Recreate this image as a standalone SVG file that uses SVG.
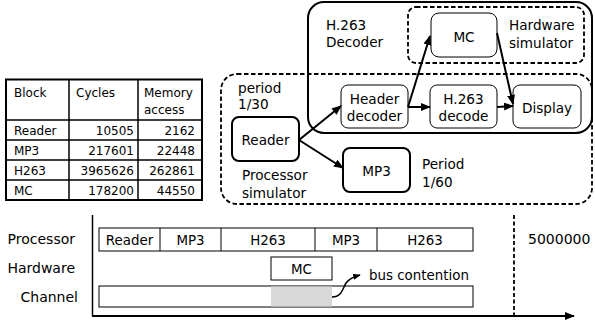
<svg xmlns="http://www.w3.org/2000/svg" width="595" height="324" viewBox="0 0 595 324">
<style>
text{font-family:"DejaVu Sans",Verdana,sans-serif;fill:#000}
.t{font-size:12px}
.d{font-size:13.6px}
.l{font-size:14px}
.b{font-size:13.4px}
.thin{fill:#fff;stroke:#000;stroke-width:1}
.thick{fill:#fff;stroke:#000;stroke-width:2}
.dash{fill:none;stroke:#000;stroke-width:1.8;stroke-dasharray:4.5 2.5}
.c{fill:none;stroke:#000;stroke-width:2}
.grid{stroke:#000;stroke-width:1.5;fill:none}
.div{stroke:#000;stroke-width:1;fill:none}
</style>
<defs>
<marker id="ah" viewBox="0 0 10 10" refX="9" refY="5" markerWidth="5" markerHeight="5" orient="auto" markerUnits="strokeWidth">
<path d="M0,1 L10,5 L0,9 Z" fill="#000"/>
</marker>
</defs>

<g id="table">
<rect x="6" y="79.5" width="196" height="120.5" fill="#fff" stroke="#000" stroke-width="2"/>
<line class="grid" x1="69" y1="79.5" x2="69" y2="200"/>
<line class="grid" x1="138" y1="79.5" x2="138" y2="200"/>
<line class="grid" x1="6" y1="120" x2="202" y2="120"/>
<line class="grid" x1="6" y1="140" x2="202" y2="140"/>
<line class="grid" x1="6" y1="160" x2="202" y2="160"/>
<line class="grid" x1="6" y1="180" x2="202" y2="180"/>
<text class="t" x="14" y="97">Block</text>
<text class="t" x="76" y="97">Cycles</text>
<text class="t" x="144" y="97">Memory</text>
<text class="t" x="144" y="114">access</text>
<text class="t" x="14" y="135">Reader</text>
<text class="t" x="14" y="155">MP3</text>
<text class="t" x="14" y="175">H263</text>
<text class="t" x="14" y="195">MC</text>
<g text-anchor="end">
<text class="t" x="134" y="135">10505</text>
<text class="t" x="134" y="155">217601</text>
<text class="t" x="134" y="175">3965626</text>
<text class="t" x="134" y="195">178200</text>
<text class="t" x="195" y="135">2162</text>
<text class="t" x="195" y="155">22448</text>
<text class="t" x="195" y="175">262861</text>
<text class="t" x="195" y="195">44550</text>
</g>
</g>

<g id="decoder-group">
<rect x="308" y="2" width="284" height="131" rx="16" fill="none" stroke="#000" stroke-width="2"/>
<text class="d" x="326" y="30">H.263</text>
<text class="d" x="326" y="47">Decoder</text>
</g>

<g id="hardware-simulator">
<rect class="dash" x="408" y="7" width="176" height="56" rx="8"/>
<text class="d" x="509" y="30">Hardware</text>
<text class="d" x="509" y="48">simulator</text>
</g>

<g id="processor-simulator">
<rect class="dash" x="221" y="74" width="371" height="130" rx="16"/>
<text class="d" x="238" y="93">period</text>
<text class="d" x="238" y="109">1/30</text>
<text class="d" x="242" y="180">Processor</text>
<text class="d" x="242" y="198">simulator</text>
<text class="d" x="422" y="169">Period</text>
<text class="d" x="422" y="187">1/60</text>
</g>

<g id="mc">
<rect class="thin" x="431" y="13" width="66" height="44" rx="8"/>
<text class="d" x="464" y="41.5" text-anchor="middle">MC</text>
</g>

<g id="reader">
<rect class="thick" x="232" y="117" width="67" height="44" rx="7"/>
<text class="d" x="265.5" y="145" text-anchor="middle">Reader</text>
</g>

<g id="header-decoder">
<rect class="thin" x="341" y="85" width="67" height="43" rx="7"/>
<text class="d" x="374.5" y="104" text-anchor="middle">Header</text>
<text class="d" x="374.5" y="120.5" text-anchor="middle">decoder</text>
</g>

<g id="h263-decode">
<rect class="thin" x="430" y="85" width="67" height="43" rx="7"/>
<text class="d" x="463.5" y="104" text-anchor="middle">H.263</text>
<text class="d" x="463.5" y="120.5" text-anchor="middle">decode</text>
</g>

<g id="display">
<rect class="thin" x="513" y="85" width="68" height="43" rx="7"/>
<text class="d" x="547" y="112.5" text-anchor="middle">Display</text>
</g>

<g id="mp3">
<rect class="thick" x="343" y="148" width="67" height="44" rx="7"/>
<text class="d" x="376.5" y="176" text-anchor="middle">MP3</text>
</g>

<g id="connectors">
<line class="c" x1="299" y1="140" x2="341" y2="106" marker-end="url(#ah)"/>
<line class="c" x1="299" y1="140" x2="343" y2="168" marker-end="url(#ah)"/>
<line class="c" x1="408" y1="107" x2="430" y2="107" marker-end="url(#ah)"/>
<line class="c" x1="408" y1="107" x2="430" y2="36" marker-end="url(#ah)"/>
<line class="c" x1="497" y1="33" x2="513" y2="104" marker-end="url(#ah)"/>
<line class="c" x1="497" y1="107" x2="513" y2="106" marker-end="url(#ah)"/>
</g>

<g id="timeline">
<line x1="92.5" y1="215" x2="92.5" y2="316" stroke="#000" stroke-width="1.5"/>
<line x1="92" y1="316" x2="574" y2="316" stroke="#000" stroke-width="2" marker-end="url(#ah)"/>
<line x1="514" y1="215" x2="514" y2="316" stroke="#000" stroke-width="1.8" stroke-dasharray="4 2.5"/>
<text class="l" x="528" y="244">5000000</text>
<text class="l" x="75" y="244" text-anchor="end">Processor</text>
<text class="l" x="75" y="273" text-anchor="end">Hardware</text>
<text class="l" x="78" y="302" text-anchor="end">Channel</text>
</g>

<g id="processor-bar">
<rect class="thin" x="99" y="228" width="374" height="23"/>
<line class="div" x1="160" y1="228" x2="160" y2="251"/>
<line class="div" x1="221" y1="228" x2="221" y2="251"/>
<line class="div" x1="315" y1="228" x2="315" y2="251"/>
<line class="div" x1="377" y1="228" x2="377" y2="251"/>
<text class="b" x="129.5" y="244.5" text-anchor="middle">Reader</text>
<text class="b" x="190.5" y="244.5" text-anchor="middle">MP3</text>
<text class="b" x="268" y="244.5" text-anchor="middle">H263</text>
<text class="b" x="346" y="244.5" text-anchor="middle">MP3</text>
<text class="b" x="425" y="244.5" text-anchor="middle">H263</text>
</g>

<g id="hardware-mc">
<rect class="thin" x="271" y="257" width="61" height="23"/>
<text class="b" x="301.5" y="273.5" text-anchor="middle">MC</text>
</g>

<g id="channel-bar">
<rect class="thin" x="99" y="286" width="374" height="21"/>
<rect x="271" y="286.5" width="61" height="20" fill="#d9d9d9"/>
<path d="M332,297 C342,297 343,288 346,283 C349,279 353,277 360,275" fill="none" stroke="#000" stroke-width="1.5" marker-end="url(#ah)"/>
<text class="b" x="369" y="280">bus contention</text>
</g>
</svg>
